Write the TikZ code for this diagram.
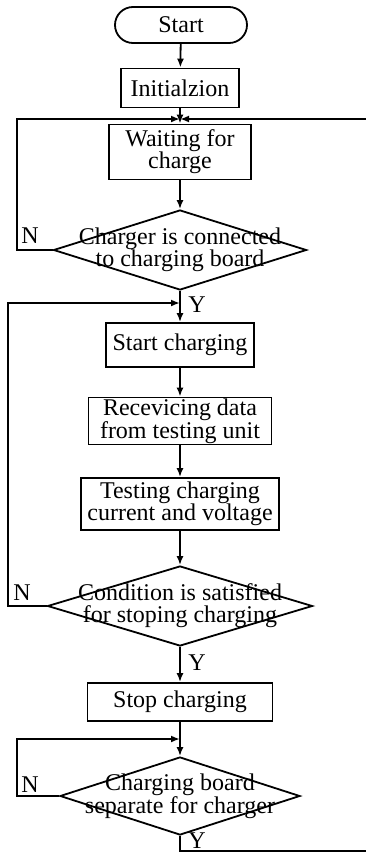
\documentclass[tikz,border=0pt]{standalone}
\usepackage{fontspec}
\setmainfont{Liberation Serif}
\usetikzlibrary{shapes.geometric,arrows.meta}

\begin{document}
\begin{tikzpicture}[x=1pt,y=-1pt,line width=1.8pt,>={Latex[length=9pt,width=7pt]},
	every node/.style={font=\fontsize{24}{22}\selectfont},
	terminal/.style={draw,rectangle,rounded corners=18pt,minimum width=132pt,minimum height=36pt,inner sep=0pt},
	process/.style={draw,rectangle,align=center,inner sep=0pt},
	decision/.style={draw,diamond,inner sep=0pt}]
	\useasboundingbox (0,0) rectangle (366,854);
	\node[terminal] (start) at (181,25) {Start};
	\node[process,minimum width=118pt,minimum height=39pt] (init) at (180,88) {Initialzion};
	\node[process,minimum width=142pt,minimum height=55pt] (wait) at (180,152) {Waiting for\\charge};
	\node[decision,minimum width=253pt,minimum height=80pt] (conn) at (180,250) {};
	\node[align=center] (connt) at (conn) {Charger is connected\\to charging board};
	\node[process,minimum width=148pt,minimum height=44pt] (startc) at (180,345) {Start charging};
	\node[process,minimum width=183pt,minimum height=47pt] (recv) at (180,421) {Recevicing data\\from testing unit};
	\node[process,minimum width=198pt,minimum height=52pt] (test) at (180,504) {Testing charging\\current and voltage};
	\node[decision,minimum width=265pt,minimum height=80pt] (cond) at (180,606) {};
	\node[align=center] (condt) at (cond) {Condition is satisfied\\for stoping charging};
	\node[process,minimum width=185pt,minimum height=38pt] (stop) at (180,702) {Stop charging};
	\node[decision,minimum width=240pt,minimum height=78pt] (sep) at (180,796) {};
	\node[align=center] (sept) at (sep) {Charging board\\separate for charger};
	\coordinate (j1) at (180,119);
	\coordinate (l1) at (17,119);
	\coordinate (r1) at (366,119);
	\coordinate (j2) at (180,303);
	\coordinate (l2) at (8,303);
	\coordinate (j3) at (180,739);
	\coordinate (l3) at (17,739);
	\coordinate (e1) at (180,851);
	\coordinate (r3) at (366,851);
	\draw[->] (start) -- (init);
	\draw[->] (init) -- (wait);
	\draw[->] (wait) -- (conn);
	\draw[->] (conn.west) -| (l1) -- (j1);
	\draw[->] (r1) -- (j1);
	\draw[->] (conn) -- (startc);
	\draw[->] (startc) -- (recv);
	\draw[->] (recv) -- (test);
	\draw[->] (test) -- (cond);
	\draw[->] (cond.west) -| (l2) -- (j2);
	\draw[->] (cond) -- (stop);
	\draw[->] (stop) -- (sep);
	\draw[->] (sep.west) -| (l3) -- (j3);
	\draw (sep.south) -- (e1) -- (r3);
	\node (n1) at (30,236) {N};
	\node (n2) at (22,593) {N};
	\node (n3) at (30,785) {N};
	\node (y1) at (197,305) {Y};
	\node (y2) at (197,663) {Y};
	\node (y3) at (197,841) {Y};
\end{tikzpicture}
\end{document}
